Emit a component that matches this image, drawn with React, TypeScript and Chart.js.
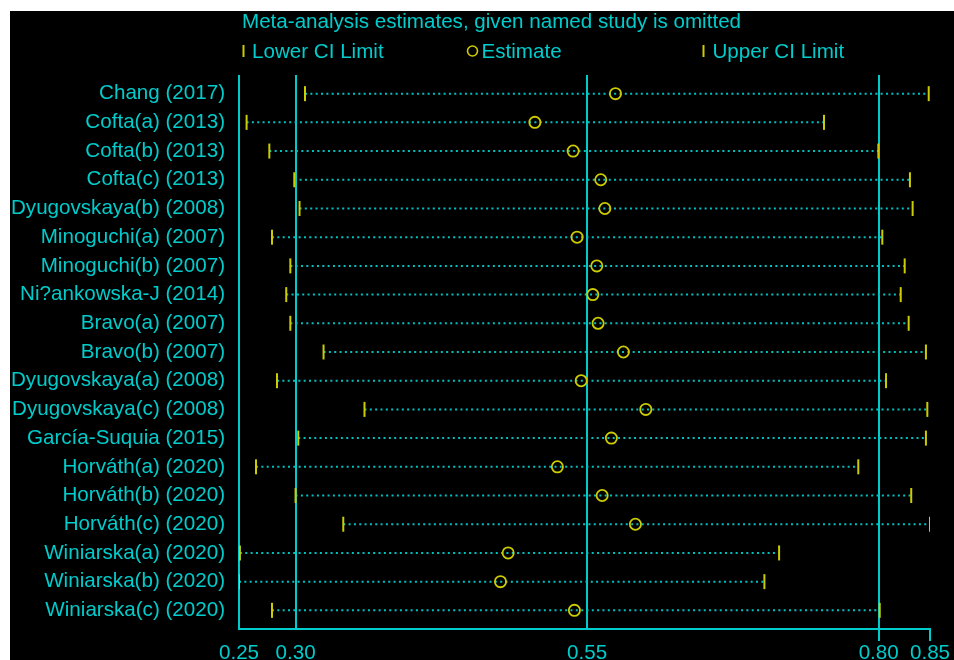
import { useEffect, useRef } from 'react';
import { Chart, registerables } from 'chart.js';

Chart.register(...registerables);

// Leave-one-out meta-analysis: pooled estimate and CI when each study is omitted
const studies = [
  'Chang (2017)',
  'Cofta(a) (2013)',
  'Cofta(b) (2013)',
  'Cofta(c) (2013)',
  'Dyugovskaya(b) (2008)',
  'Minoguchi(a) (2007)',
  'Minoguchi(b) (2007)',
  'Ni?ankowska-J (2014)',
  'Bravo(a) (2007)',
  'Bravo(b) (2007)',
  'Dyugovskaya(a) (2008)',
  'Dyugovskaya(c) (2008)',
  'García-Suquia (2015)',
  'Horváth(a) (2020)',
  'Horváth(b) (2020)',
  'Horváth(c) (2020)',
  'Winiarska(a) (2020)',
  'Winiarska(b) (2020)',
  'Winiarska(c) (2020)',
];

const lowerCI = [
  0.3081, 0.258, 0.2775, 0.2989, 0.3034, 0.2798, 0.2955, 0.292, 0.2955, 0.324,
  0.2841, 0.3591, 0.3023, 0.2661, 0.3, 0.3409, 0.2523, 0.2515, 0.2798,
];

const estimates = [
  0.5743, 0.5052, 0.538, 0.5617, 0.5652, 0.5414, 0.5583, 0.5549, 0.5594, 0.5811,
  0.5449, 0.6003, 0.5708, 0.5245, 0.5629, 0.5914, 0.4823, 0.4757, 0.5391,
];

const upperCI = [
  0.8429, 0.7531, 0.7997, 0.8268, 0.8291, 0.8031, 0.8223, 0.8189, 0.8257, 0.8405,
  0.8063, 0.8417, 0.8405, 0.7825, 0.8279, 0.844, 0.7146, 0.702, 0.8009,
];

// Axis runs from the lowest lower limit to the highest upper limit
const xInnerTicks = [0.3, 0.55, 0.8];
const xTickLabels = ['0.25', '0.30', '0.55', '0.80', '0.85'];

const titleText = 'Meta-analysis estimates, given named study is omitted';
const legendLabels = ['Lower CI Limit', 'Estimate', 'Upper CI Limit'];

const CYAN = '#00CCCC';
const DOT = '#00C0C0';
const YELLOW = '#CCCC00';
const FONT = '"Liberation Sans", Arial, sans-serif';
const FONT_SIZE = 20.6;
const CLEAR = 'rgba(0,0,0,0)';

const headerPlugin = {
  id: 'header',
  afterDraw(chart: any) {
    const ctx = chart.ctx as CanvasRenderingContext2D;
    ctx.save();
    ctx.font = `${FONT_SIZE}px ${FONT}`;
    ctx.fillStyle = CYAN;
    ctx.textBaseline = 'alphabetic';
    ctx.textAlign = 'left';
    ctx.fillText(titleText, 232, 16.5);

    const legendBase = 46.5;
    ctx.fillText(legendLabels[0], 242, legendBase);
    ctx.fillText(legendLabels[1], 471.5, legendBase);
    ctx.fillText(legendLabels[2], 702.5, legendBase);

    ctx.strokeStyle = YELLOW;
    ctx.lineWidth = 2;
    ctx.beginPath();
    ctx.moveTo(233.5, 34);
    ctx.lineTo(233.5, 46);
    ctx.moveTo(693.5, 34);
    ctx.lineTo(693.5, 46);
    ctx.stroke();

    ctx.lineWidth = 1.6;
    ctx.beginPath();
    ctx.arc(462.5, 40, 5, 0, Math.PI * 2);
    ctx.stroke();
    ctx.restore();
  },
};

export default function App() {
  const canvasRef = useRef<HTMLCanvasElement>(null);

  useEffect(() => {
    const canvas = canvasRef.current;
    if (!canvas) return;

    const rows = studies.map((_, i) => i + 1);
    const axisMin = Math.min(...lowerCI);
    const axisMax = Math.max(...upperCI);

    const ciLines: any[] = [];
    rows.forEach((r, i) => {
      ciLines.push({ x: lowerCI[i], y: r }, { x: upperCI[i], y: r }, { x: upperCI[i], y: null });
    });

    const chart = new Chart(canvas, {
      type: 'scatter',
      data: {
        datasets: [
          {
            label: legendLabels[0],
            data: rows.map((r, i) => ({ x: lowerCI[i], y: r })),
            pointStyle: 'line',
            pointRotation: 90,
            pointRadius: 7.5,
            pointBorderWidth: 2,
            pointBorderColor: YELLOW,
            order: 1,
          },
          {
            label: legendLabels[1],
            data: rows.map((r, i) => ({ x: estimates[i], y: r })),
            pointStyle: 'circle',
            pointRadius: 5.6,
            pointBorderWidth: 1.8,
            pointBorderColor: YELLOW,
            pointBackgroundColor: CLEAR,
            order: 1,
          },
          {
            label: legendLabels[2],
            data: rows.map((r, i) => ({ x: upperCI[i], y: r })),
            pointStyle: 'line',
            pointRotation: 90,
            pointRadius: 7.5,
            pointBorderWidth: 2,
            pointBorderColor: YELLOW,
            order: 1,
          },
          {
            label: 'CI',
            data: ciLines,
            showLine: true,
            spanGaps: false,
            borderColor: DOT,
            borderWidth: 2,
            borderDash: [2, 3.33],
            pointRadius: 0,
            order: 3,
          } as any,
        ],
      },
      options: {
        responsive: false,
        animation: false,
        events: [],
        layout: { padding: { top: 64, right: 24, left: 0, bottom: 0 } },
        plugins: {
          legend: { display: false },
          title: { display: false },
          tooltip: { enabled: false },
        },
        scales: {
          x: {
            type: 'linear',
            min: axisMin,
            max: axisMax,
            afterBuildTicks: (s: any) => {
              s.ticks = [axisMin, ...xInnerTicks, axisMax].map((v) => ({ value: v }));
            },
            afterFit: (s: any) => {
              s.height = 31;
            },
            ticks: {
              autoSkip: false,
              maxRotation: 0,
              color: CYAN,
              padding: 0,
              font: { family: FONT, size: FONT_SIZE },
              callback: (_v: any, i: number) => xTickLabels[i],
            },
            grid: {
              color: (c: any) => (c.index === 4 ? CLEAR : CYAN),
              lineWidth: 2,
              tickLength: 12,
              tickWidth: 2,
              tickColor: (c: any) => (c.index >= 3 ? CYAN : CLEAR),
            },
            border: { display: true, color: CYAN, width: 2 },
          },
          y: {
            type: 'linear',
            reverse: true,
            min: 0.35,
            max: 19.65,
            afterBuildTicks: (s: any) => {
              s.ticks = rows.map((v) => ({ value: v }));
            },
            afterFit: (s: any) => {
              s.width = 229;
            },
            ticks: {
              autoSkip: false,
              color: CYAN,
              padding: 14,
              font: { family: FONT, size: FONT_SIZE },
              callback: (v: any) => studies[Math.round(Number(v)) - 1],
            },
            grid: { display: false, drawTicks: false },
            border: { display: false },
          },
        },
      } as any,
      plugins: [headerPlugin],
    });

    return () => chart.destroy();
  }, []);

  return (
    <div
      style={{
        position: 'fixed',
        left: 10,
        top: 11,
        width: 944,
        height: 649,
        background: '#000',
        overflow: 'hidden',
      }}
    >
      <canvas ref={canvasRef} width={944} height={649} style={{ display: 'block' }} />
    </div>
  );
}
